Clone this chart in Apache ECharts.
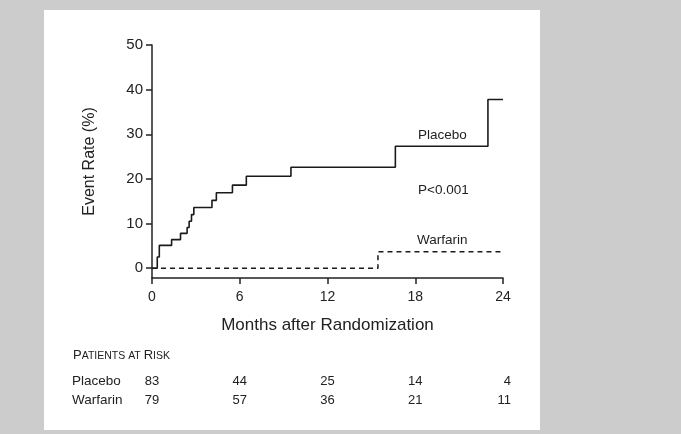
<!DOCTYPE html>
<html>
<head>
<meta charset="utf-8">
<script src="https://cdn.jsdelivr.net/npm/echarts@6/dist/echarts.min.js"></script>
<style>
html,body{margin:0;padding:0;background:#cccccc;}
#c{width:681px;height:434px;}
</style>
</head>
<body>
<div id="c"></div>
<script>
// ---- data ----
var placebo = [[0,0],[0.36,2.5],[0.5,5.1],[1.34,6.4],[1.95,7.8],[2.4,9.1],[2.54,10.5],[2.7,12.0],[2.86,13.6],[4.1,15.2],[4.4,16.9],[5.5,18.6],[6.45,20.6],[9.5,22.6],[16.64,27.3],[22.97,37.8],[24,37.8]];
var warfarin = [[0,0],[15.45,3.7],[24,3.7]];
var yTicks = [0,10,20,30,40,50];
var xTicks = [0,6,12,18,24];
var riskPlacebo = [83,44,25,14,4];
var riskWarfarin = [79,57,36,21,11];
var rowNames = ['Placebo','Warfarin'];

var FONT = '"Liberation Sans", Arial, Helvetica, sans-serif';
var INK = '#222';

var chart = echarts.init(document.getElementById('c'), null, {renderer:'canvas'});

function riskAxis(gridIndex, arr){
  return {
    type:'value', gridIndex:gridIndex, min:0, max:24, interval:6,
    axisLine:{show:false}, axisTick:{show:false}, splitLine:{show:false},
    axisLabel:{
      show:true, margin:2, fontSize:13, color:INK, fontFamily:FONT,
      formatter:function(v){
        var i = xTicks.indexOf(v);
        if (i < 0) return '';
        return i === xTicks.length-1 ? '{r|'+arr[i]+'}' : String(arr[i]);
      },
      rich:{r:{width:16, align:'right', fontSize:13, color:INK, fontFamily:FONT}}
    }
  };
}

var option = {
  backgroundColor:'#cccccc',
  animation:false,
  graphic:[
    {type:'rect', shape:{x:44,y:10,width:496,height:420}, style:{fill:'#ffffff'}, z:-10},
    {type:'text', left:418, top:128, style:{text:'Placebo', font:'13.5px '+FONT, fill:INK}},
    {type:'text', left:418, top:183, style:{text:'P<0.001', font:'13.5px '+FONT, fill:INK}},
    {type:'text', left:417, top:233, style:{text:'Warfarin', font:'13.5px '+FONT, fill:INK}},
    {type:'text', left:73, top:349, style:{
      text:'{b|P}{s|ATIENTS AT }{b|R}{s|ISK}',
      rich:{b:{fontSize:13, fontFamily:FONT, fill:INK, color:INK, verticalAlign:'bottom'}, s:{fontSize:10.5, fontFamily:FONT, fill:INK, color:INK, verticalAlign:'bottom'}}
    }},
    {type:'text', left:72, top:374, style:{text:rowNames[0], font:'13.5px '+FONT, fill:INK}},
    {type:'text', left:72, top:393, style:{text:rowNames[1], font:'13.5px '+FONT, fill:INK}}
  ],
  grid:[
    {left:152, right:178, top:45, bottom:156},
    {left:152, right:178, top:372, height:1},
    {left:152, right:178, top:391, height:1}
  ],
  xAxis:[
    {
      type:'value', gridIndex:0, min:0, max:24, interval:6,
      name:'Months after Randomization', nameLocation:'middle', nameGap:39,
      nameTextStyle:{fontSize:17, color:INK, fontFamily:FONT},
      axisLine:{show:true, onZero:false, lineStyle:{color:INK, width:1.5}},
      axisTick:{show:true, inside:false, length:6, lineStyle:{color:INK, width:1.5}},
      axisLabel:{fontSize:14, color:INK, fontFamily:FONT, margin:12},
      splitLine:{show:false}
    },
    riskAxis(1, riskPlacebo),
    riskAxis(2, riskWarfarin)
  ],
  yAxis:[
    {
      type:'value', gridIndex:0, min:-2.2, max:50,
      name:'Event Rate (%)', nameLocation:'middle', nameGap:54,
      nameTextStyle:{fontSize:16, color:INK, fontFamily:FONT},
      axisLine:{show:true, onZero:false, lineStyle:{color:INK, width:1.5}},
      axisTick:{show:true, length:6, customValues:yTicks, lineStyle:{color:INK, width:1.5}},
      axisLabel:{fontSize:15, color:INK, fontFamily:FONT, margin:9, customValues:yTicks},
      splitLine:{show:false}
    },
    {type:'value', gridIndex:1, show:false, min:0, max:1},
    {type:'value', gridIndex:2, show:false, min:0, max:1}
  ],
  series:[
    {
      name:'Placebo', type:'line', step:'end', data:placebo, xAxisIndex:0, yAxisIndex:0,
      symbol:'none', lineStyle:{color:'#1a1a1a', width:1.6}
    },
    {
      name:'Warfarin', type:'line', step:'end', data:warfarin, xAxisIndex:0, yAxisIndex:0,
      symbol:'none', lineStyle:{color:'#1a1a1a', width:1.5, type:[5,4]}
    }
  ]
};
chart.setOption(option);
</script>
</body>
</html>
